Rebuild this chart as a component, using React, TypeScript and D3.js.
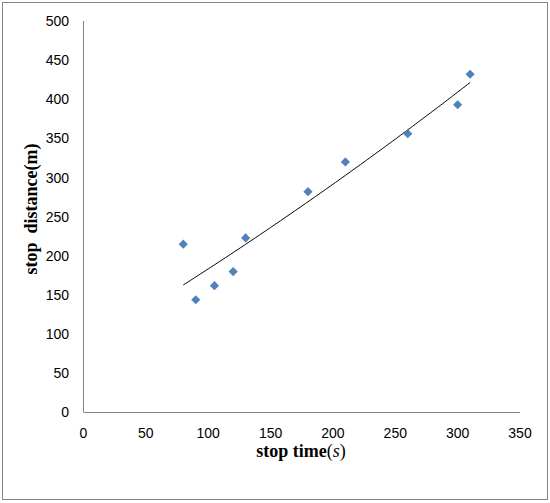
import React from 'react';
import * as d3 from 'd3';

// stop time (s) vs stop distance (m)
const stopTime = [80, 90, 105, 120, 130, 180, 210, 260, 300, 310];
const stopDistance = [215, 144, 162, 180, 223, 282, 320, 356, 393, 432];
const xTicks = [0, 50, 100, 150, 200, 250, 300, 350];
const yTicks = [0, 50, 100, 150, 200, 250, 300, 350, 400, 450, 500];

const W = 550;
const H = 503;

// order-2 least squares trendline, like the spreadsheet one
const quadFit = (xs: number[], ys: number[]) => {
  const n = xs.length;
  let s1 = 0, s2 = 0, s3 = 0, s4 = 0, t0 = 0, t1 = 0, t2 = 0;
  xs.forEach((x, i) => {
    const y = ys[i];
    s1 += x; s2 += x * x; s3 += x * x * x; s4 += x * x * x * x;
    t0 += y; t1 += x * y; t2 += x * x * y;
  });
  const m = [
    [n, s1, s2, t0],
    [s1, s2, s3, t1],
    [s2, s3, s4, t2],
  ];
  for (let c = 0; c < 3; c++) {
    for (let r = c + 1; r < 3; r++) {
      const f = m[r][c] / m[c][c];
      for (let k = c; k < 4; k++) m[r][k] -= f * m[c][k];
    }
  }
  const coef = [0, 0, 0];
  for (let r = 2; r >= 0; r--) {
    let v = m[r][3];
    for (let k = r + 1; k < 3; k++) v -= m[r][k] * coef[k];
    coef[r] = v / m[r][r];
  }
  return (x: number) => coef[0] + coef[1] * x + coef[2] * x * x;
};

const App: React.FC = () => {
  const x = d3.scaleLinear([0, 350], [83.5, 520]);
  const y = d3.scaleLinear([0, 500], [412.5, 21]);

  const fit = quadFit(stopTime, stopDistance);
  const [x0, x1] = d3.extent(stopTime) as [number, number];
  const trendPts: [number, number][] = d3.range(x0, x1 + 0.001, 2).map(t => [t, fit(t)]);
  const trend = d3.line<[number, number]>().x(d => x(d[0])).y(d => y(d[1]))(trendPts);

  const diamond = d3.symbol().type(d3.symbolSquare).size(42)();

  const axisColor = '#868686';
  const tickFont = '"Liberation Sans", Arial, sans-serif';
  const labelFont = '"Liberation Serif", "Times New Roman", serif';

  return (
    <svg width={W} height={H} style={{ position: 'absolute', left: 0, top: 0, background: '#fff' }}>
      <rect x={2.5} y={2.5} width={545} height={497} fill="#fff" stroke={axisColor} strokeWidth={1} />

      {/* axes */}
      <line x1={x(0)} x2={x(0)} y1={y(0)} y2={y(500)} stroke={axisColor} strokeWidth={1} />
      <line x1={x(0)} x2={x(350)} y1={y(0)} y2={y(0)} stroke={axisColor} strokeWidth={1} />

      {yTicks.map(t => (
        <text key={'y' + t} x={69} y={y(t)} dy="0.35em" textAnchor="end"
          fontFamily={tickFont} fontSize={14} fill="#000">{t}</text>
      ))}
      {xTicks.map(t => (
        <text key={'x' + t} x={x(t)} y={433} dy="0.35em" textAnchor="middle"
          fontFamily={tickFont} fontSize={14} fill="#000">{t}</text>
      ))}

      <path d={trend ?? ''} fill="none" stroke="#000" strokeWidth={1} />

      {stopTime.map((t, i) => (
        <path key={'p' + i} d={diamond ?? ''} fill="#4F81BD"
          transform={`translate(${x(t)},${y(stopDistance[i])}) rotate(45)`} />
      ))}

      <text x={301} y={457} textAnchor="middle" fontFamily={labelFont} fontSize={18} fontWeight="bold" fill="#000">
        stop time<tspan fontWeight="normal">(<tspan fontStyle="italic">s</tspan>)</tspan>
      </text>
      <text transform={`translate(37,209) rotate(-90)`} textAnchor="middle" fontFamily={labelFont}
        fontSize={18} fontWeight="bold" fill="#000" style={{ whiteSpace: 'pre' }}>
        {'stop  distance(m)'}
      </text>
    </svg>
  );
};

export default App;
